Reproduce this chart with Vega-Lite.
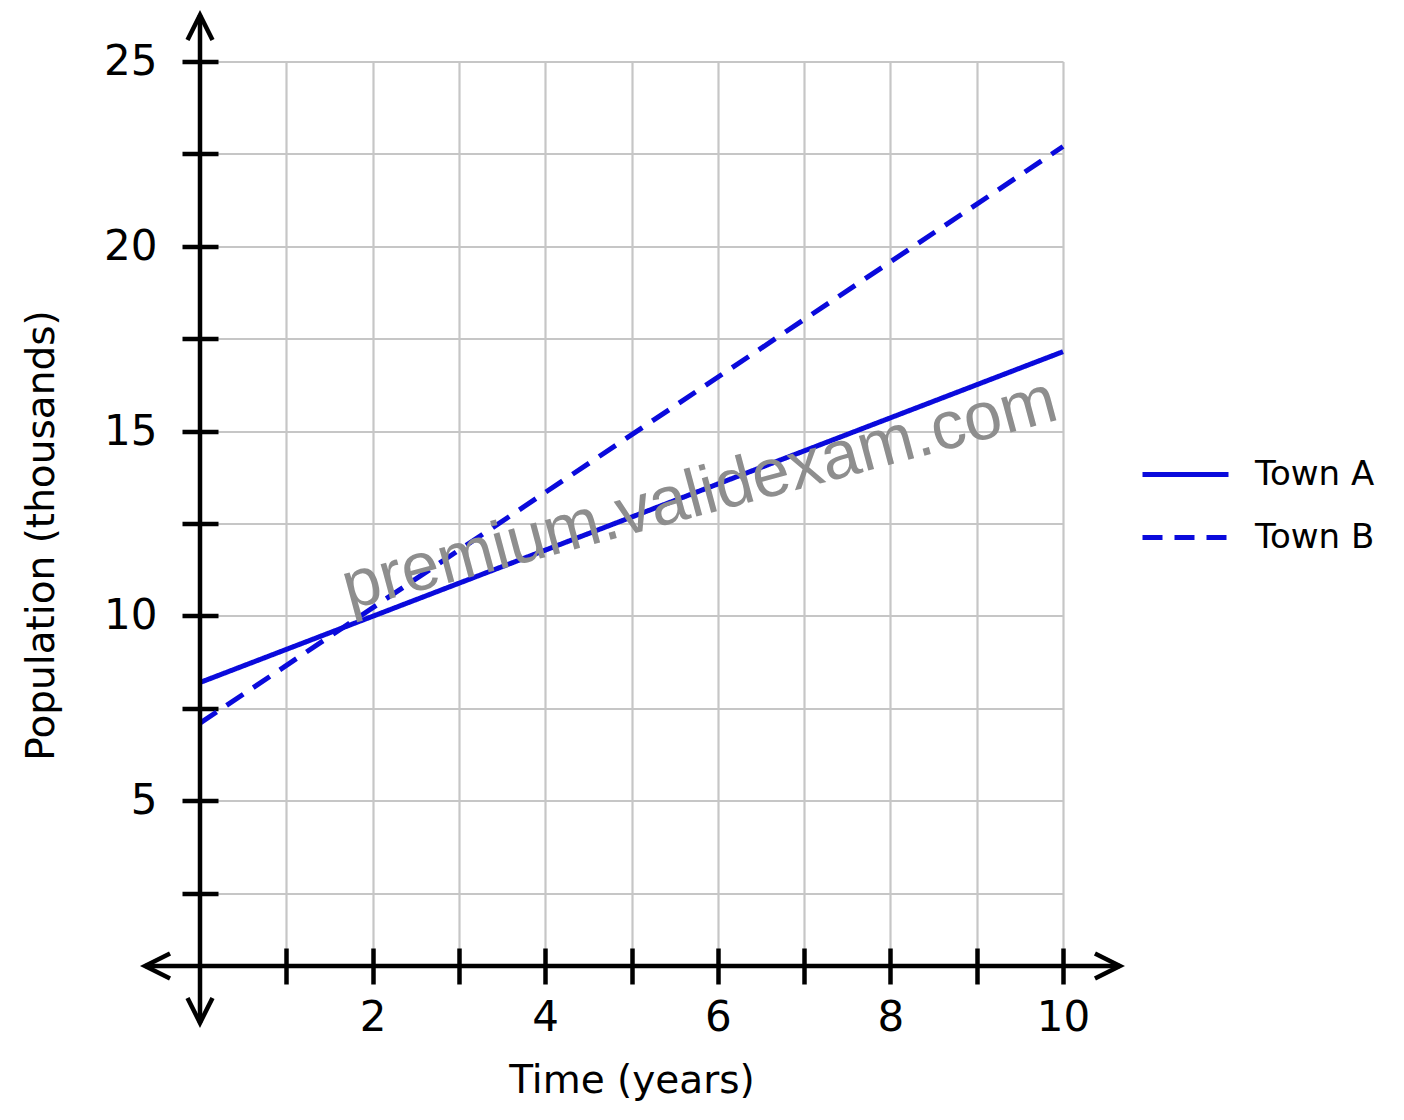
{
  "$schema": "https://vega.github.io/schema/vega-lite/v6.json",
  "width": 863,
  "height": 904.5,
  "autosize": {"type": "none"},
  "padding": {"left": 200, "top": 61.5, "right": 341, "bottom": 154},
  "background": "white",
  "datasets": {
    "towns": [
      {"town": "Town A", "year": 0, "population": 8.2},
      {"town": "Town A", "year": 10, "population": 17.15},
      {"town": "Town B", "year": 0, "population": 7.1},
      {"town": "Town B", "year": 10, "population": 22.7}
    ],
    "axislines": [
      {"year": -0.637, "year2": 10.66, "population": 0.53, "population2": 0.53},
      {"year": 0, "year2": 0, "population": -1.01, "population2": 26.26}
    ],
    "arrows": [
      {"year": -0.637, "population": 0.53, "dir": "left"},
      {"year": 10.66, "population": 0.53, "dir": "right"},
      {"year": 0, "population": 26.26, "dir": "up"},
      {"year": 0, "population": -1.01, "dir": "down"}
    ],
    "watermark": [
      {"year": 5.79, "population": 13.27, "label": "premium.validexam.com"}
    ]
  },
  "encoding": {
    "x": {
      "field": "year",
      "type": "quantitative",
      "scale": {"domain": [0, 10], "nice": false, "zero": false},
      "axis": {
        "title": "Time (years)",
        "values": [1, 2, 3, 4, 5, 6, 7, 8, 9, 10],
        "labelExpr": "datum.value % 2 == 0 ? datum.label : ''",
        "offset": -18,
        "tickSize": 36,
        "tickWidth": 4.5,
        "tickColor": "black",
        "domain": false,
        "grid": true,
        "gridColor": "#c6c6c6",
        "gridWidth": 2.2,
        "labelFontSize": 42,
        "labelColor": "black",
        "labelPadding": 13,
        "labelFlush": false,
        "labelOverlap": false,
        "titleFontSize": 39,
        "titleFontWeight": "normal",
        "titleColor": "black",
        "titleBaseline": "alphabetic",
        "titleY": 144
      }
    },
    "y": {
      "field": "population",
      "type": "quantitative",
      "scale": {"domain": [0.53, 25], "nice": false, "zero": false},
      "axis": {
        "title": "Population (thousands)",
        "values": [2.5, 5, 7.5, 10, 12.5, 15, 17.5, 20, 22.5, 25],
        "labelExpr": "datum.value % 5 == 0 ? datum.label : ''",
        "offset": -18,
        "tickSize": 36,
        "tickWidth": 4.5,
        "tickColor": "black",
        "domain": false,
        "grid": true,
        "gridColor": "#c6c6c6",
        "gridWidth": 2.2,
        "labelFontSize": 42,
        "labelColor": "black",
        "labelPadding": 25,
        "labelFlush": false,
        "labelOverlap": false,
        "titleFontSize": 39,
        "titleFontWeight": "normal",
        "titleColor": "black",
        "titleAngle": 270,
        "titleBaseline": "alphabetic",
        "titleX": -165,
        "titleY": 473.5
      }
    }
  },
  "layer": [
    {
      "data": {"name": "towns"},
      "mark": {"type": "line", "color": "#0a0adc", "strokeWidth": 5},
      "encoding": {
        "strokeDash": {
          "field": "town",
          "type": "nominal",
          "scale": {"domain": ["Town A", "Town B"], "range": [[1, 0], [20, 12]]},
          "legend": {
            "title": null,
            "orient": "none",
            "legendX": 940,
            "legendY": 367.5,
            "padding": 0,
            "symbolType": "stroke",
            "symbolSize": 7396,
            "symbolStrokeWidth": 5,
            "symbolStrokeColor": "#0a0adc",
            "labelFontSize": 34,
            "labelFont": "DejaVu Sans",
            "labelColor": "black",
            "labelOffset": 24,
            "rowPadding": -24
          }
        }
      }
    },
    {
      "data": {"name": "axislines"},
      "mark": {"type": "rule", "stroke": "black", "strokeWidth": 4.5},
      "encoding": {
        "x2": {"field": "year2"},
        "y2": {"field": "population2"}
      }
    },
    {
      "data": {"name": "arrows"},
      "mark": {"type": "point", "filled": false, "stroke": "black", "strokeWidth": 4.5, "size": 625, "opacity": 1},
      "encoding": {
        "shape": {
          "field": "dir",
          "type": "nominal",
          "scale": {
            "domain": ["left", "right", "up", "down"],
            "range": ["M 2 -1 L 0 0 L 2 1", "M -2 -1 L 0 0 L -2 1", "M -1 2 L 0 0 L 1 2", "M -1 -2 L 0 0 L 1 -2"]
          },
          "legend": null
        }
      }
    },
    {
      "data": {"name": "watermark"},
      "mark": {
        "type": "text",
        "font": "Liberation Sans",
        "fontSize": 68,
        "angle": 345,
        "color": "#8e8e8e",
        "opacity": 1,
        "align": "center",
        "baseline": "middle"
      },
      "encoding": {
        "text": {"field": "label"}
      }
    }
  ],
  "config": {
    "font": "DejaVu Sans",
    "view": {"stroke": null}
  }
}
